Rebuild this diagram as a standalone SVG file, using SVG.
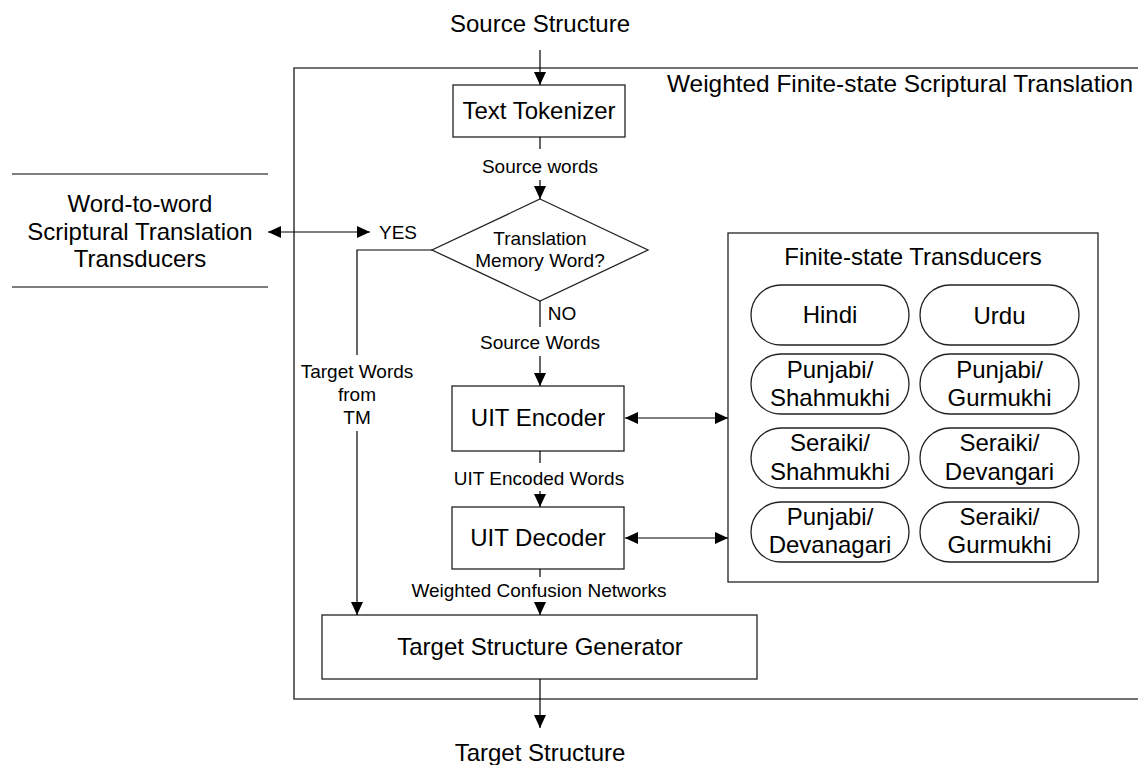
<svg xmlns="http://www.w3.org/2000/svg" width="1138" height="765" viewBox="0 0 1138 765">
  <style>
    text { font-family: "Liberation Sans", Arial, sans-serif; fill: #000; text-anchor: middle; }
    .big { font-size: 24px; }
    .small { font-size: 19px; }
    .box { fill: #fff; stroke: #222; stroke-width: 1.3; }
    .frame { fill: none; stroke: #444; stroke-width: 1.6; }
    .line { fill: none; stroke: #000; stroke-width: 1.2; }
    .arrow { marker-end: url(#head); }
    .both { marker-start: url(#tail); marker-end: url(#head); }
  </style>
  <defs>
    <marker id="head" viewBox="0 0 13 12" refX="13" refY="6" markerWidth="13" markerHeight="12" markerUnits="userSpaceOnUse" orient="auto">
      <path d="M0,0 L13,6 L0,12 Z" fill="#000"/>
    </marker>
    <marker id="tail" viewBox="0 0 13 12" refX="0" refY="6" markerWidth="13" markerHeight="12" markerUnits="userSpaceOnUse" orient="auto">
      <path d="M13,0 L0,6 L13,12 Z" fill="#000"/>
    </marker>
  </defs>

  <rect width="1138" height="765" fill="#fff"/>

  <!-- outer frame: weighted finite-state scriptural translation -->
  <g id="system">
    <path class="frame" d="M1145,68 H294 V699 H1145"/>
    <text class="big" x="900" y="92" textLength="466" lengthAdjust="spacingAndGlyphs">Weighted Finite-state Scriptural Translation</text>
  </g>

  <!-- terminals -->
  <g id="source-structure"><text class="big" x="540" y="32">Source Structure</text></g>
  <g id="target-structure"><text class="big" x="540" y="761">Target Structure</text></g>

  <!-- external word-to-word transducers -->
  <g id="word-to-word">
    <line class="line" x1="12" y1="174" x2="268" y2="174"/>
    <line class="line" x1="12" y1="287" x2="268" y2="287"/>
    <text class="big" x="140" y="212">Word-to-word</text>
    <text class="big" x="140" y="240">Scriptural Translation</text>
    <text class="big" x="140" y="267">Transducers</text>
  </g>

  <!-- processing steps -->
  <g id="text-tokenizer">
    <rect class="box" x="453" y="85" width="172" height="52"/>
    <text class="big" x="539" y="119">Text Tokenizer</text>
  </g>

  <g id="tm-decision">
    <polygon class="box" points="540,199 648,250 540,301 432,250"/>
    <text class="small" x="540" y="245">Translation</text>
    <text class="small" x="540" y="267">Memory Word?</text>
  </g>

  <g id="uit-encoder">
    <rect class="box" x="452" y="386" width="172" height="65"/>
    <text class="big" x="538" y="426">UIT Encoder</text>
  </g>

  <g id="uit-decoder">
    <rect class="box" x="452" y="507" width="172" height="62"/>
    <text class="big" x="538" y="546">UIT Decoder</text>
  </g>

  <g id="target-generator">
    <rect class="box" x="322" y="615" width="435" height="64"/>
    <text class="big" x="540" y="655">Target Structure Generator</text>
  </g>

  <!-- finite-state transducer bank -->
  <g id="fst-bank">
    <rect class="box" x="728" y="233" width="370" height="349" stroke="#333" stroke-width="1.6"/>
    <text class="big" x="913" y="265">Finite-state Transducers</text>
  </g>
  <g id="fst-hindi">
    <rect class="box" x="751" y="285" width="158" height="60" rx="30" ry="30"/>
    <text class="big" x="830" y="323">Hindi</text>
  </g>
  <g id="fst-urdu">
    <rect class="box" x="920" y="285" width="159" height="60" rx="30" ry="30"/>
    <text class="big" x="999.5" y="324">Urdu</text>
  </g>
  <g id="fst-punjabi-shahmukhi">
    <rect class="box" x="751" y="354" width="158" height="60" rx="30" ry="30"/>
    <text class="big" x="830" y="378">Punjabi/</text>
    <text class="big" x="830" y="406">Shahmukhi</text>
  </g>
  <g id="fst-punjabi-gurmukhi">
    <rect class="box" x="920" y="354" width="159" height="60" rx="30" ry="30"/>
    <text class="big" x="999.5" y="378">Punjabi/</text>
    <text class="big" x="999.5" y="406">Gurmukhi</text>
  </g>
  <g id="fst-seraiki-shahmukhi">
    <rect class="box" x="751" y="428" width="158" height="60" rx="30" ry="30"/>
    <text class="big" x="830" y="451">Seraiki/</text>
    <text class="big" x="830" y="480">Shahmukhi</text>
  </g>
  <g id="fst-seraiki-devangari">
    <rect class="box" x="920" y="428" width="159" height="60" rx="30" ry="30"/>
    <text class="big" x="999.5" y="451">Seraiki/</text>
    <text class="big" x="999.5" y="480">Devangari</text>
  </g>
  <g id="fst-punjabi-devanagari">
    <rect class="box" x="751" y="502" width="158" height="60" rx="30" ry="30"/>
    <text class="big" x="830" y="525">Punjabi/</text>
    <text class="big" x="830" y="553">Devanagari</text>
  </g>
  <g id="fst-seraiki-gurmukhi">
    <rect class="box" x="920" y="502" width="159" height="60" rx="30" ry="30"/>
    <text class="big" x="999.5" y="525">Seraiki/</text>
    <text class="big" x="999.5" y="553">Gurmukhi</text>
  </g>

  <!-- connectors -->
  <g id="connectors">
    <line class="line arrow" x1="540" y1="50" x2="540" y2="85"/>
    <line class="line" x1="540" y1="137" x2="540" y2="149"/>
    <line class="line arrow" x1="540" y1="180" x2="540" y2="199"/>
    <line class="line both" x1="268" y1="232" x2="370" y2="232"/>
    <path class="line" d="M432,250 H357 V355"/>
    <line class="line arrow" x1="357" y1="431" x2="357" y2="615"/>
    <line class="line" x1="540" y1="301" x2="540" y2="327"/>
    <line class="line arrow" x1="540" y1="356" x2="540" y2="386"/>
    <line class="line" x1="540" y1="451" x2="540" y2="463"/>
    <line class="line arrow" x1="540" y1="491" x2="540" y2="507"/>
    <line class="line" x1="540" y1="569" x2="540" y2="577"/>
    <line class="line arrow" x1="540" y1="603" x2="540" y2="615"/>
    <line class="line arrow" x1="540" y1="679" x2="540" y2="728"/>
    <line class="line both" x1="625" y1="418" x2="728" y2="418"/>
    <line class="line both" x1="625" y1="538" x2="728" y2="538"/>

    <text class="small" x="398" y="239">YES</text>
    <text class="small" x="540" y="173">Source words</text>
    <text class="small" x="562" y="320">NO</text>
    <text class="small" x="540" y="349">Source Words</text>
    <text class="small" x="357" y="378">Target Words</text>
    <text class="small" x="357" y="401">from</text>
    <text class="small" x="357" y="424">TM</text>
    <text class="small" x="539" y="485">UIT Encoded Words</text>
    <text class="small" x="539" y="597">Weighted Confusion Networks</text>
  </g>
</svg>
